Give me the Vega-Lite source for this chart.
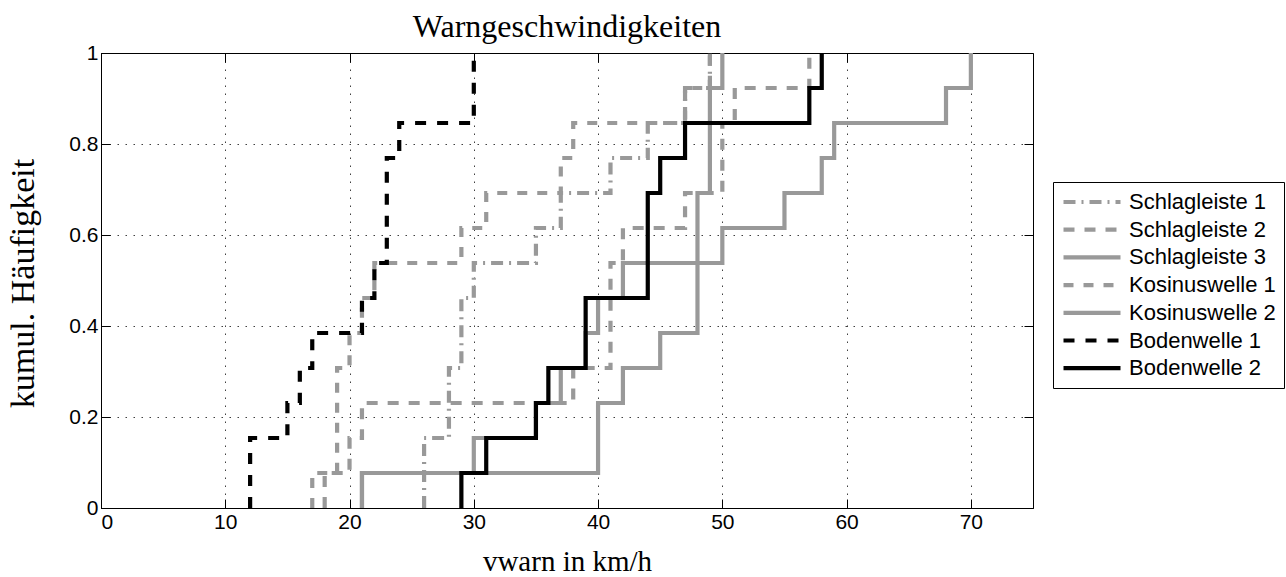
{
  "$schema": "https://vega.github.io/schema/vega-lite/v6.json",
  "width": 932,
  "height": 455,
  "autosize": {"type": "none"},
  "padding": {"left": 101, "top": 53, "right": 253, "bottom": 69},
  "background": "white",
  "title": {"text": "Warngeschwindigkeiten", "font": "Liberation Serif", "fontSize": 32, "fontWeight": "normal", "color": "black", "baseline": "bottom", "offset": 9, "dy": 43, "anchor": "middle"},
  "config": {
    "view": {"stroke": "black", "strokeWidth": 1},
    "axis": {"labelFont": "Liberation Sans", "labelColor": "black", "tickColor": "black", "domainColor": "black", "titleColor": "black", "titleFont": "Liberation Serif", "titleFontWeight": "normal"}
  },
  "data": {"values": [
    {"s": "Schlagleiste 1", "i": 0, "v": 26, "p": 0},
    {"s": "Schlagleiste 1", "i": 1, "v": 26, "p": 0.1538},
    {"s": "Schlagleiste 1", "i": 2, "v": 28, "p": 0.3077},
    {"s": "Schlagleiste 1", "i": 3, "v": 29, "p": 0.4615},
    {"s": "Schlagleiste 1", "i": 4, "v": 30, "p": 0.5385},
    {"s": "Schlagleiste 1", "i": 5, "v": 35, "p": 0.6154},
    {"s": "Schlagleiste 1", "i": 6, "v": 37, "p": 0.6923},
    {"s": "Schlagleiste 1", "i": 7, "v": 41, "p": 0.7692},
    {"s": "Schlagleiste 1", "i": 8, "v": 44, "p": 0.8462},
    {"s": "Schlagleiste 1", "i": 9, "v": 47, "p": 0.9231},
    {"s": "Schlagleiste 1", "i": 10, "v": 49, "p": 1},
    {"s": "Schlagleiste 2", "i": 0, "v": 18, "p": 0},
    {"s": "Schlagleiste 2", "i": 1, "v": 18, "p": 0.0769},
    {"s": "Schlagleiste 2", "i": 2, "v": 20, "p": 0.1538},
    {"s": "Schlagleiste 2", "i": 3, "v": 21, "p": 0.2308},
    {"s": "Schlagleiste 2", "i": 4, "v": 38, "p": 0.3077},
    {"s": "Schlagleiste 2", "i": 5, "v": 41, "p": 0.5385},
    {"s": "Schlagleiste 2", "i": 6, "v": 42, "p": 0.6154},
    {"s": "Schlagleiste 2", "i": 7, "v": 47, "p": 0.6923},
    {"s": "Schlagleiste 2", "i": 8, "v": 50, "p": 0.8462},
    {"s": "Schlagleiste 2", "i": 9, "v": 51, "p": 0.9231},
    {"s": "Schlagleiste 2", "i": 10, "v": 57, "p": 1},
    {"s": "Schlagleiste 3", "i": 0, "v": 21, "p": 0},
    {"s": "Schlagleiste 3", "i": 1, "v": 21, "p": 0.0769},
    {"s": "Schlagleiste 3", "i": 2, "v": 40, "p": 0.2308},
    {"s": "Schlagleiste 3", "i": 3, "v": 42, "p": 0.3077},
    {"s": "Schlagleiste 3", "i": 4, "v": 45, "p": 0.3846},
    {"s": "Schlagleiste 3", "i": 5, "v": 48, "p": 0.6923},
    {"s": "Schlagleiste 3", "i": 6, "v": 49, "p": 0.9231},
    {"s": "Schlagleiste 3", "i": 7, "v": 50, "p": 1},
    {"s": "Kosinuswelle 1", "i": 0, "v": 17, "p": 0},
    {"s": "Kosinuswelle 1", "i": 1, "v": 17, "p": 0.0769},
    {"s": "Kosinuswelle 1", "i": 2, "v": 19, "p": 0.3077},
    {"s": "Kosinuswelle 1", "i": 3, "v": 20, "p": 0.3846},
    {"s": "Kosinuswelle 1", "i": 4, "v": 21, "p": 0.4615},
    {"s": "Kosinuswelle 1", "i": 5, "v": 22, "p": 0.5385},
    {"s": "Kosinuswelle 1", "i": 6, "v": 29, "p": 0.6154},
    {"s": "Kosinuswelle 1", "i": 7, "v": 31, "p": 0.6923},
    {"s": "Kosinuswelle 1", "i": 8, "v": 37, "p": 0.7692},
    {"s": "Kosinuswelle 1", "i": 9, "v": 38, "p": 0.8462},
    {"s": "Kosinuswelle 1", "i": 10, "v": 47, "p": 0.9231},
    {"s": "Kosinuswelle 1", "i": 11, "v": 49, "p": 1},
    {"s": "Kosinuswelle 2", "i": 0, "v": 21, "p": 0},
    {"s": "Kosinuswelle 2", "i": 1, "v": 21, "p": 0.0769},
    {"s": "Kosinuswelle 2", "i": 2, "v": 30, "p": 0.1538},
    {"s": "Kosinuswelle 2", "i": 3, "v": 35, "p": 0.2308},
    {"s": "Kosinuswelle 2", "i": 4, "v": 37, "p": 0.3077},
    {"s": "Kosinuswelle 2", "i": 5, "v": 39, "p": 0.3846},
    {"s": "Kosinuswelle 2", "i": 6, "v": 40, "p": 0.4615},
    {"s": "Kosinuswelle 2", "i": 7, "v": 42, "p": 0.5385},
    {"s": "Kosinuswelle 2", "i": 8, "v": 50, "p": 0.6154},
    {"s": "Kosinuswelle 2", "i": 9, "v": 55, "p": 0.6923},
    {"s": "Kosinuswelle 2", "i": 10, "v": 58, "p": 0.7692},
    {"s": "Kosinuswelle 2", "i": 11, "v": 59, "p": 0.8462},
    {"s": "Kosinuswelle 2", "i": 12, "v": 68, "p": 0.9231},
    {"s": "Kosinuswelle 2", "i": 13, "v": 70, "p": 1},
    {"s": "Bodenwelle 1", "i": 0, "v": 12, "p": 0},
    {"s": "Bodenwelle 1", "i": 1, "v": 12, "p": 0.1538},
    {"s": "Bodenwelle 1", "i": 2, "v": 15, "p": 0.2308},
    {"s": "Bodenwelle 1", "i": 3, "v": 16, "p": 0.3077},
    {"s": "Bodenwelle 1", "i": 4, "v": 17, "p": 0.3846},
    {"s": "Bodenwelle 1", "i": 5, "v": 21, "p": 0.4615},
    {"s": "Bodenwelle 1", "i": 6, "v": 22, "p": 0.5385},
    {"s": "Bodenwelle 1", "i": 7, "v": 23, "p": 0.7692},
    {"s": "Bodenwelle 1", "i": 8, "v": 24, "p": 0.8462},
    {"s": "Bodenwelle 1", "i": 9, "v": 30, "p": 1},
    {"s": "Bodenwelle 2", "i": 0, "v": 29, "p": 0},
    {"s": "Bodenwelle 2", "i": 1, "v": 29, "p": 0.0769},
    {"s": "Bodenwelle 2", "i": 2, "v": 31, "p": 0.1538},
    {"s": "Bodenwelle 2", "i": 3, "v": 35, "p": 0.2308},
    {"s": "Bodenwelle 2", "i": 4, "v": 36, "p": 0.3077},
    {"s": "Bodenwelle 2", "i": 5, "v": 39, "p": 0.4615},
    {"s": "Bodenwelle 2", "i": 6, "v": 44, "p": 0.6923},
    {"s": "Bodenwelle 2", "i": 7, "v": 45, "p": 0.7692},
    {"s": "Bodenwelle 2", "i": 8, "v": 47, "p": 0.8462},
    {"s": "Bodenwelle 2", "i": 9, "v": 57, "p": 0.9231},
    {"s": "Bodenwelle 2", "i": 10, "v": 58, "p": 1}
  ]},
  "layer": [
    {
      "mark": {"type": "line", "interpolate": "step-after", "strokeCap": "butt", "strokeJoin": "miter"},
      "encoding": {
        "x": {"field": "v", "type": "quantitative", "scale": {"domain": [0, 75], "nice": false, "zero": false},
          "axis": {"values": [0, 10, 20, 30, 40, 50, 60, 70], "labelFontSize": 21, "labelPadding": 12, "tickSize": -9, "tickWidth": 1, "domainWidth": 1,
            "grid": true, "gridColor": "black", "gridDash": [1.5, 6.5], "gridOpacity": 0.75, "gridWidth": 1,
            "title": "vwarn in km/h", "titleFontSize": 29, "titleX": 466, "titleY": 62, "titleBaseline": "alphabetic", "titleAnchor": "middle"}},
        "y": {"field": "p", "type": "quantitative", "scale": {"domain": [0, 1], "nice": false},
          "axis": {"values": [0, 0.2, 0.4, 0.6, 0.8, 1], "format": "~g", "labelFontSize": 21, "labelPadding": 12, "tickSize": -9, "tickWidth": 1, "domainWidth": 1,
            "grid": true, "gridColor": "black", "gridDash": [1.5, 6.5], "gridOpacity": 0.75, "gridWidth": 1,
            "title": "kumul. Häufigkeit", "titleFontSize": 34, "titleX": -68, "titleY": 230, "titleAngle": 270, "titleBaseline": "alphabetic", "titleAnchor": "middle"}},
        "order": {"field": "i", "type": "quantitative"},
        "color": {"field": "s", "type": "nominal",
          "scale": {"domain": ["Schlagleiste 1", "Schlagleiste 2", "Schlagleiste 3", "Kosinuswelle 1", "Kosinuswelle 2", "Bodenwelle 1", "Bodenwelle 2"],
                    "range": ["#999999", "#999999", "#999999", "#999999", "#999999", "#000000", "#000000"]},
          "legend": {"title": null, "orient": "none", "legendX": 952, "legendY": 129, "strokeColor": "black", "fillColor": "white", "padding": 8,
            "labelFont": "Liberation Sans", "labelFontSize": 22, "labelColor": "black", "labelOffset": 44, "rowPadding": 4.7,
            "symbolType": "M-1,0H5", "symbolSize": 361,
            "encode": {"symbols": {"update": {"strokeWidth": {"scale": "strokeWidth", "field": "value"}}}}}},
        "strokeDash": {"field": "s", "type": "nominal",
          "scale": {"domain": ["Schlagleiste 1", "Schlagleiste 2", "Schlagleiste 3", "Kosinuswelle 1", "Kosinuswelle 2", "Bodenwelle 1", "Bodenwelle 2"],
                    "range": [[12, 6, 2, 6], [11, 10], [1, 0], [10, 10], [1, 0], [11, 11], [1, 0]]},
          "legend": {"title": null, "orient": "none", "legendX": 952, "legendY": 129, "strokeColor": "black", "fillColor": "white", "padding": 8,
            "labelFont": "Liberation Sans", "labelFontSize": 22, "labelColor": "black", "labelOffset": 44, "rowPadding": 4.7,
            "symbolType": "M-1,0H5", "symbolSize": 361,
            "encode": {"symbols": {"update": {"strokeWidth": {"scale": "strokeWidth", "field": "value"}}}}}},
        "strokeWidth": {"field": "s", "type": "nominal",
          "scale": {"domain": ["Schlagleiste 1", "Schlagleiste 2", "Schlagleiste 3", "Kosinuswelle 1", "Kosinuswelle 2", "Bodenwelle 1", "Bodenwelle 2"],
                    "range": [4.2, 4.2, 4.8, 2, 2, 2.5, 2.5]},
          "legend": {"title": null, "orient": "none", "legendX": 952, "legendY": 129, "strokeColor": "black", "fillColor": "white", "padding": 8,
            "labelFont": "Liberation Sans", "labelFontSize": 22, "labelColor": "black", "labelOffset": 44, "rowPadding": 4.7,
            "symbolType": "M-1,0H5", "symbolSize": 361,
            "encode": {"symbols": {"update": {"strokeWidth": {"scale": "strokeWidth", "field": "value"}}}}}}
      }
    },
    {
      "mark": {"type": "point", "opacity": 0},
      "encoding": {
        "x": {"field": "v", "type": "quantitative", "axis": {"orient": "top", "values": [0, 10, 20, 30, 40, 50, 60, 70], "labels": false, "domain": false, "grid": false, "tickSize": -9, "tickWidth": 1, "title": null}},
        "y": {"field": "p", "type": "quantitative", "axis": {"orient": "right", "values": [0, 0.2, 0.4, 0.6, 0.8, 1], "labels": false, "domain": false, "grid": false, "tickSize": -9, "tickWidth": 1, "title": null}}
      }
    }
  ],
  "resolve": {"axis": {"x": "independent", "y": "independent"}}
}
